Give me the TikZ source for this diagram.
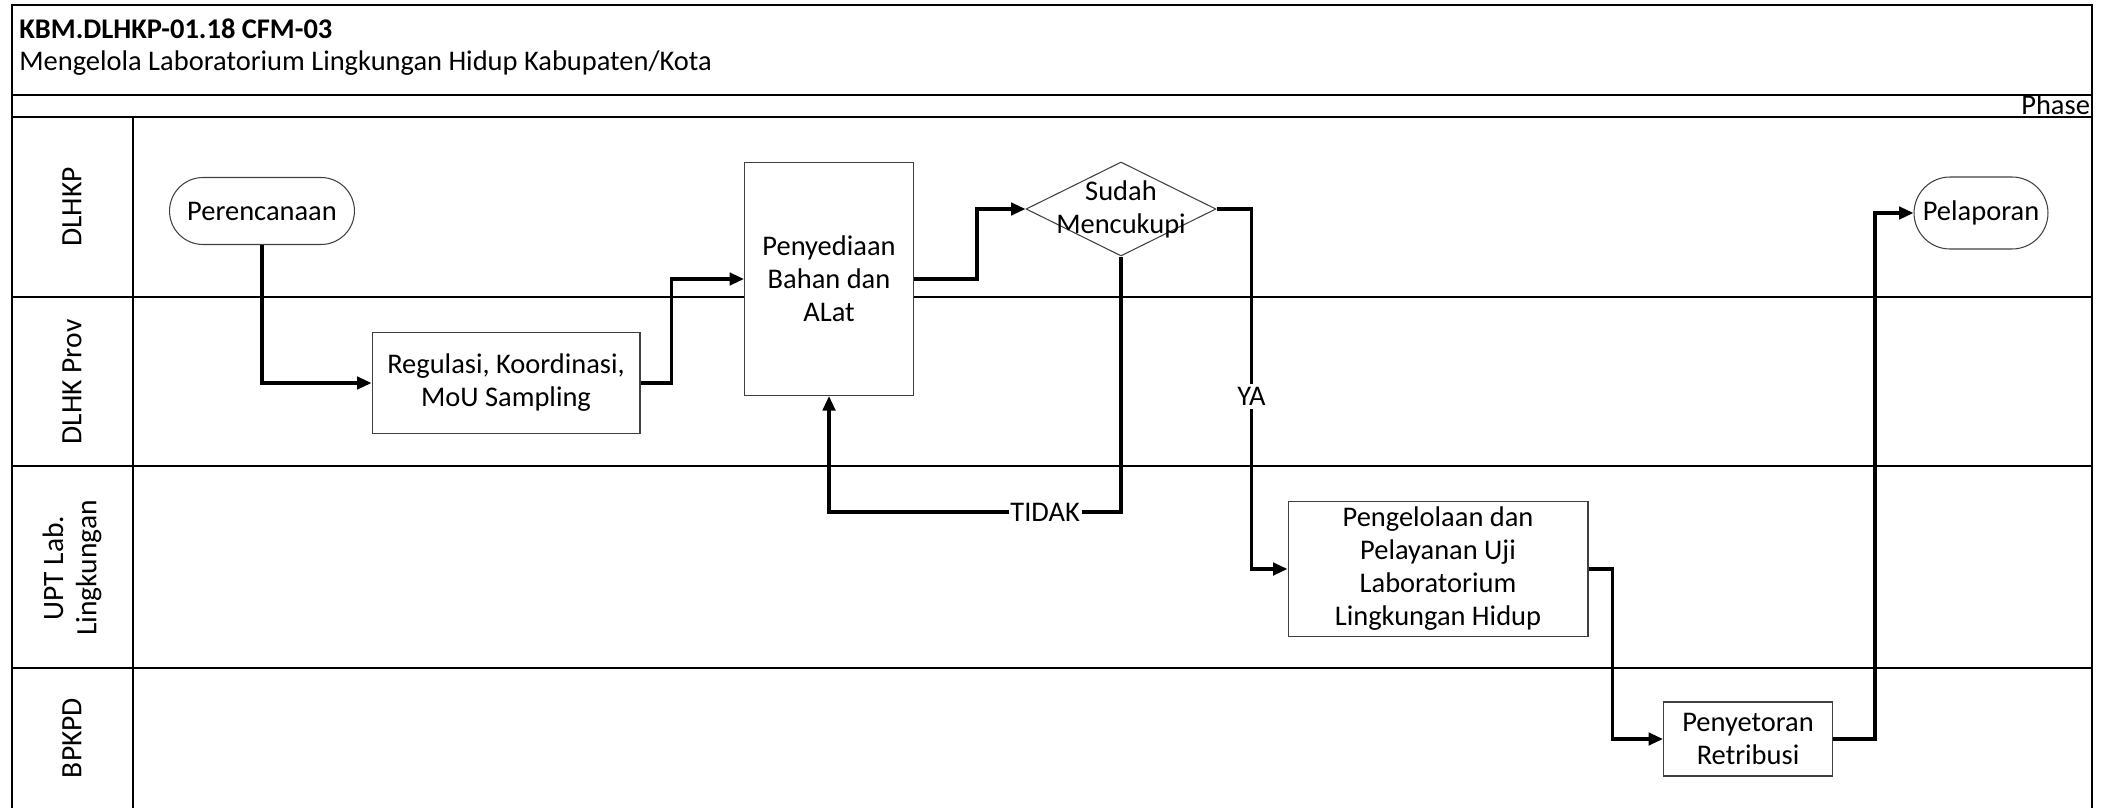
\documentclass[tikz,border=0pt]{standalone}
\usepackage{fontspec}
\setmainfont{Carlito}
\usetikzlibrary{positioning,arrows.meta,shapes.misc,shapes.geometric}

\begin{document}
\begin{tikzpicture}[x=0.02cm,y=-0.02cm,>={Triangle[length=2.9mm,width=2.5mm]},
  font=\fontsize{16.2}{18.8}\selectfont,
  proc/.style={draw=black!75,line width=0.6pt,fill=white,align=center,inner sep=2pt},
  term/.style={proc,rounded rectangle},
  dec/.style={draw=black!75,line width=0.6pt,diamond,inner sep=0pt},
  flow/.style={->,line width=1.8pt},
  lane/.style={rotate=90,align=center,font=\fontsize{16.8}{19}\selectfont},
  frame/.style={line width=0.8pt}]
\useasboundingbox (0,0) rectangle (2103,808);

% frame and lanes
\draw[frame] (12,808) |- (2092,5) -- (2092,808);
\draw[frame] (12,95) -- (2092,95);
\draw[frame] (12,117) -- (2092,117);
\foreach \y in {297,466,668}
  \draw[frame] (12,\y) -- (2092,\y);
\draw[frame] (133,117) -- (133,808);

\node[anchor=base west,inner sep=0pt,font=\fontsize{16.2}{18.8}\selectfont\bfseries] (judul) at (19,38) {KBM.DLHKP-01.18 CFM-03};
\node[anchor=base west,inner sep=0pt] (subjudul) at (19,70) {Mengelola Laboratorium Lingkungan Hidup Kabupaten/Kota};
\node[anchor=base east,inner sep=1pt] (phase) at (2092,114) {Phase};

\node[lane] (l1) at (72,207) {DLHKP};
\node[lane] (l2) at (72,382) {DLHK Prov};
\node[lane] (l3) at (72,568) {UPT Lab.\\Lingkungan};
\node[lane] (l4) at (72,738) {BPKPD};

% steps
\node[term,minimum width=3.84cm,minimum height=1.34cm] (renc) at (262,211) {Perencanaan};
\node[proc,minimum width=5.36cm,minimum height=2.02cm] (reg) at (506,383) {Regulasi, Koordinasi,\\MoU Sampling};
\node[proc,minimum width=3.38cm,minimum height=4.66cm] (sedia) at (829,279) {Penyediaan\\Bahan dan\\ALat};
\node[dec,minimum width=3.8cm,minimum height=1.88cm,
  label={[align=center]center:Sudah\\Mencukupi}] (cek) at (1121,209) {};
\node[proc,minimum width=6cm,minimum height=2.7cm] (kelola) at (1438,569) {Pengelolaan dan\\Pelayanan Uji\\Laboratorium\\Lingkungan Hidup};
\node[proc,minimum width=3.38cm,minimum height=1.48cm] (setor) at (1748,739) {Penyetoran\\Retribusi};
\node[term,minimum width=2.82cm,minimum height=1.44cm] (lapor) at (1981,213) {Pelaporan};

% connectors
\coordinate (tdk) at (1121,512);
\draw[flow] (renc.south) |- (reg.west);
\draw[flow] (reg.east) -- ++(31,0) |- (sedia.west);
\draw[flow] (sedia.east) -- ++(63,0) |- (cek.west);
\draw[flow] (cek.south) -- (tdk) -| node[pos=0.13,fill=white,inner sep=1pt]{TIDAK} (sedia.south);
\draw[flow] (cek.east) -- ++(35,0) |- node[pos=0.26,fill=white,inner sep=2pt]{YA} (kelola.west);
\draw[flow] (kelola.east) -- ++(24,0) |- (setor.west);
\draw[flow] (setor.east) -- ++(42,0) |- (lapor.west);
\end{tikzpicture}
\end{document}
